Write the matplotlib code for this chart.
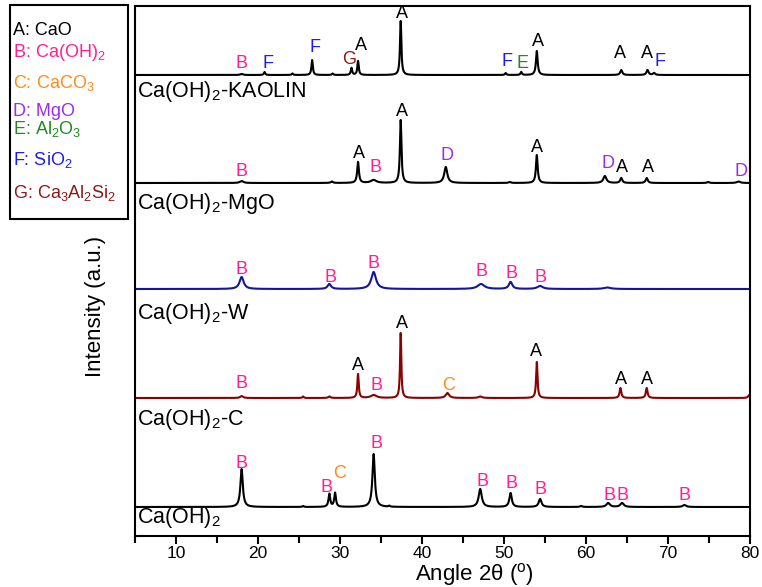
import numpy as np
import matplotlib
matplotlib.use("Agg")
import matplotlib.pyplot as plt
from matplotlib.patches import Rectangle

plt.rcParams['font.family'] = ['Liberation Sans', 'DejaVu Sans']
plt.rcParams['mathtext.fontset'] = 'custom'
plt.rcParams['mathtext.rm'] = 'Liberation Sans'
plt.rcParams['mathtext.it'] = 'Liberation Sans:italic'

# phase colours
phase_colors = {'A': 'black', 'B': '#ff1f8f', 'C': '#ff8c1a', 'D': '#9a2cf0',
                'E': '#1f8a1f', 'F': '#1c1cf0', 'G': '#8b1a1a'}
legend_items = ['A: CaO', 'B: Ca(OH)$_2$', 'C: CaCO$_3$', 'D: MgO',
                'E: Al$_2$O$_3$', 'F: SiO$_2$', 'G: Ca$_3$Al$_2$Si$_2$']

# sample names (bottom -> top) and their vertical offsets
samples = ['Ca(OH)$_2$', 'Ca(OH)$_2$-C', 'Ca(OH)$_2$-W', 'Ca(OH)$_2$-MgO', 'Ca(OH)$_2$-KAOLIN']
offsets = [29, 138, 247, 353, 461]
trace_colors = ['black', '#8b0000', '#1414a0', 'black', 'black']

# peak lists: position (deg), height, fwhm
caoh_pos = [18.0, 25.5, 28.7, 29.4, 34.1, 36.0, 47.1, 50.8, 54.4, 59.4, 62.7, 64.4, 72.0]
caoh_h = [38, 1, 13, 14, 53, 1, 18, 14, 8, 1, 4, 4, 2]
caoh_w = [0.35, 0.2, 0.25, 0.25, 0.35, 0.2, 0.45, 0.35, 0.4, 0.3, 0.5, 0.5, 0.5]

c_pos = [18.0, 25.5, 28.7, 32.2, 34.1, 37.4, 43.1, 47.1, 54.0, 64.2, 67.4, 79.9]
c_h = [2, 1.5, 1.5, 24, 3, 65, 5, 1.5, 36, 10, 10, 3]
c_w = [0.4, 0.2, 0.3, 0.2, 0.8, 0.18, 0.5, 0.5, 0.2, 0.25, 0.25, 0.3]

w_pos = [18.0, 28.7, 34.1, 47.2, 50.8, 54.4, 62.6]
w_h = [12, 5, 17, 5, 7, 3, 1.5]
w_w = [0.6, 0.5, 0.7, 1.0, 0.5, 0.8, 1.0]

mgo_pos = [18.0, 29.0, 32.2, 34.1, 37.4, 42.9, 50.7, 54.0, 62.3, 64.3, 67.4, 74.9, 78.6]
mgo_h = [2, 1.5, 21, 3, 63, 16, 1, 28, 7, 5, 5, 1, 1.5]
mgo_w = [0.5, 0.3, 0.25, 0.8, 0.22, 0.45, 0.3, 0.25, 0.45, 0.3, 0.3, 0.3, 0.5]

kao_pos = [18.0, 20.8, 24.2, 26.6, 29.1, 31.4, 32.2, 37.4, 50.2, 52.1, 54.0, 64.3, 67.5, 68.3]
kao_h = [1, 3, 1.5, 15, 1.5, 7, 14, 54, 2, 3, 24, 5, 5, 2]
kao_w = [0.4, 0.2, 0.2, 0.2, 0.2, 0.2, 0.2, 0.2, 0.2, 0.2, 0.25, 0.3, 0.3, 0.3]

peaks = [(caoh_pos, caoh_h, caoh_w), (c_pos, c_h, c_w), (w_pos, w_h, w_w),
         (mgo_pos, mgo_h, mgo_w), (kao_pos, kao_h, kao_w)]

# phase labels: letter, angle, height
labels = [
    # KAOLIN
    ('B', 18.0, 473), ('F', 21.2, 473), ('F', 27.0, 488), ('G', 31.1, 477),
    ('A', 32.6, 491), ('A', 37.6, 523), ('F', 50.4, 475), ('E', 52.3, 473),
    ('A', 54.1, 494), ('A', 64.1, 483), ('A', 67.4, 483), ('F', 69.0, 475),
    # MgO
    ('B', 18.0, 364), ('A', 32.3, 382), ('B', 34.3, 368), ('A', 37.6, 424),
    ('D', 43.1, 381), ('A', 54.0, 388), ('D', 62.7, 372), ('A', 64.4, 368),
    ('A', 67.6, 368), ('D', 78.9, 364),
    # W
    ('B', 18.0, 266), ('B', 28.9, 258), ('B', 34.1, 273), ('B', 47.3, 264),
    ('B', 50.9, 263), ('B', 54.4, 259),
    # C
    ('B', 18.0, 153), ('A', 32.2, 171), ('B', 34.4, 151), ('A', 37.6, 212),
    ('C', 43.2, 151), ('A', 53.9, 184), ('A', 64.3, 157), ('A', 67.4, 157),
    # Ca(OH)2
    ('B', 18.0, 73), ('B', 28.4, 49), ('C', 29.9, 62), ('B', 34.5, 93),
    ('B', 47.4, 54), ('B', 50.9, 53), ('B', 54.5, 46), ('B', 62.9, 41),
    ('B', 64.5, 41), ('B', 72.0, 40),
]
name_y = [18, 116, 223, 333, 444]

x = np.linspace(5, 80, 7501)

fig = plt.figure(figsize=(7.62, 5.87), dpi=100)
ax = fig.add_axes([135/762, 1-536/587, 615/762, 530/587])

for (pos, h, w), off, col in zip(peaks, offsets, trace_colors):
    y = np.full_like(x, off, dtype=float)
    for p, hh, ww in zip(pos, h, w):
        y += hh / (1 + ((x - p) / (ww / 2)) ** 2)
    ax.plot(x, y, color=col, lw=1.5)

for letter, px, py in labels:
    ax.text(px, py, letter, color=phase_colors[letter], fontsize=13,
            ha='center', va='center')

for name, ny in zip(samples, name_y):
    ax.text(5.25, ny, name, fontsize=15.5, ha='left', va='center')

ax.set_xlim(5, 80)
ax.set_ylim(0, 530)
ax.set_yticks([])
ax.set_xticks(np.arange(10, 81, 10))
ax.set_xticks(np.arange(5, 81, 5), minor=True)
ax.tick_params(axis='x', which='major', direction='out', length=6, width=1.5,
               labelsize=12.5, pad=1.5)
ax.tick_params(axis='x', which='minor', direction='out', length=5, width=1.5)
for s in ax.spines.values():
    s.set_linewidth(1.5)

fig.text(474/762, 1-574/587, r'Angle 2θ ($^{\mathrm{o}}$)', fontsize=16,
         ha='center', va='center')
fig.text(95/762, 1-306/587, 'Intensity (a.u.)', fontsize=16, rotation=90,
         ha='center', va='center')

# legend box
fig.add_artist(Rectangle((10/762, 1-219/587), 118/762, 214/587,
                         transform=fig.transFigure, fill=False, lw=1.5, color='black'))
leg_base = [35, 57, 88, 116, 134, 165, 198]
for item, yb in zip(legend_items, leg_base):
    fig.text(13/762, 1-yb/587, item, color=phase_colors[item[0]], fontsize=13,
             ha='left', va='baseline')

fig.savefig('out.png', dpi=100)
